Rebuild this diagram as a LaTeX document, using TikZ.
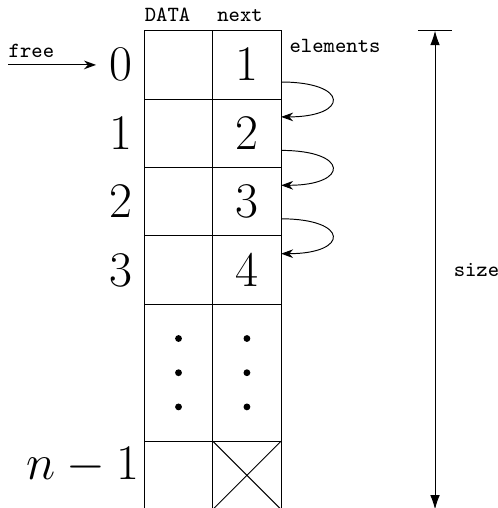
\documentclass[tikz,border=0pt]{standalone}
\usetikzlibrary{positioning,arrows.meta}

\tikzset{
    cell/.style={draw, minimum width=1cm, minimum height=1cm, inner sep=0pt, outer sep=0pt,
        font=\huge},
    idx/.style={font=\huge},
    lbl/.style={font=\small\ttfamily},
    link/.style={-{Stealth[length=5pt,width=3.6pt]}}
}

\begin{document}
\begin{tikzpicture}
    \useasboundingbox (-2.11,0.449) rectangle (5.17,-6.978);

    % rows of the free list
    \node[cell] (d0) at (0.5,-0.5) {};
    \node[cell, right=0pt of d0] (n0) {\(1\)};
    \node[cell, below=0pt of d0] (d1) {};
    \node[cell, right=0pt of d1] (n1) {\(2\)};
    \node[cell, below=0pt of d1] (d2) {};
    \node[cell, right=0pt of d2] (n2) {\(3\)};
    \node[cell, below=0pt of d2] (d3) {};
    \node[cell, right=0pt of d3] (n3) {\(4\)};
    \node[cell, minimum height=2cm, below=0pt of d3] (ddots) {};
    \node[cell, minimum height=2cm, right=0pt of ddots] (ndots) {};
    \node[cell, below=0pt of ddots] (dlast) {};
    \node[cell, right=0pt of dlast] (nlast) {};

    % dots and the empty link
    \foreach \dy in {-0.5,0,0.5} {
        \fill ([yshift=\dy cm]ddots.center) circle (0.05);
        \fill ([yshift=\dy cm]ndots.center) circle (0.05);
    }
    \draw (nlast.north west) -- (nlast.south east);
    \draw (nlast.south west) -- (nlast.north east);

    % column heads
    \node[lbl, anchor=base west, inner sep=0pt] (datahead) at (0,0.13) {DATA};
    \node[lbl, anchor=base west, inner sep=0pt] (nexthead) at (1.06,0.13) {next};
    \node[lbl, anchor=north west] (elems) at (n0.north east) {elements};

    % indices
    \node[idx, left=1.5pt of d0] (i0) {\(0\)};
    \node[idx, left=1.5pt of d1] (i1) {\(1\)};
    \node[idx, left=1.5pt of d2] (i2) {\(2\)};
    \node[idx, left=1.5pt of d3] (i3) {\(3\)};
    \node[idx, anchor=east, inner sep=2pt] (ilast) at (0,-6.35) {\(n-1\)};

    % free pointer
    \coordinate (freestart) at (-1.99,-0.5);
    \draw[link, shorten >=2pt] (freestart) -- (i0.west);
    \node[lbl, anchor=south west, inner sep=0pt] (freelbl) at ([yshift=3pt]freestart) {free};

    % next links
    \draw[link] ([yshift=-0.25cm]n0.east) .. controls +(1,0) and +(1,0) .. ([yshift=0.24cm]n1.east);
    \draw[link] ([yshift=-0.25cm]n1.east) .. controls +(1,0) and +(1,0) .. ([yshift=0.24cm]n2.east);
    \draw[link] ([yshift=-0.25cm]n2.east) .. controls +(1,0) and +(1,0) .. ([yshift=0.24cm]n3.east);

    % size of the array
    \coordinate (sztop) at (4.25,0);
    \coordinate (szbot) at (4.25,-7);
    \draw (4,0) -- (4.5,0);
    \draw[{Latex[length=6pt,width=4pt]}-{Latex[length=6pt,width=4pt]}] (sztop) -- (szbot)
        node[lbl, midway, right=0.15cm] (szlbl) {size};
\end{tikzpicture}
\end{document}
